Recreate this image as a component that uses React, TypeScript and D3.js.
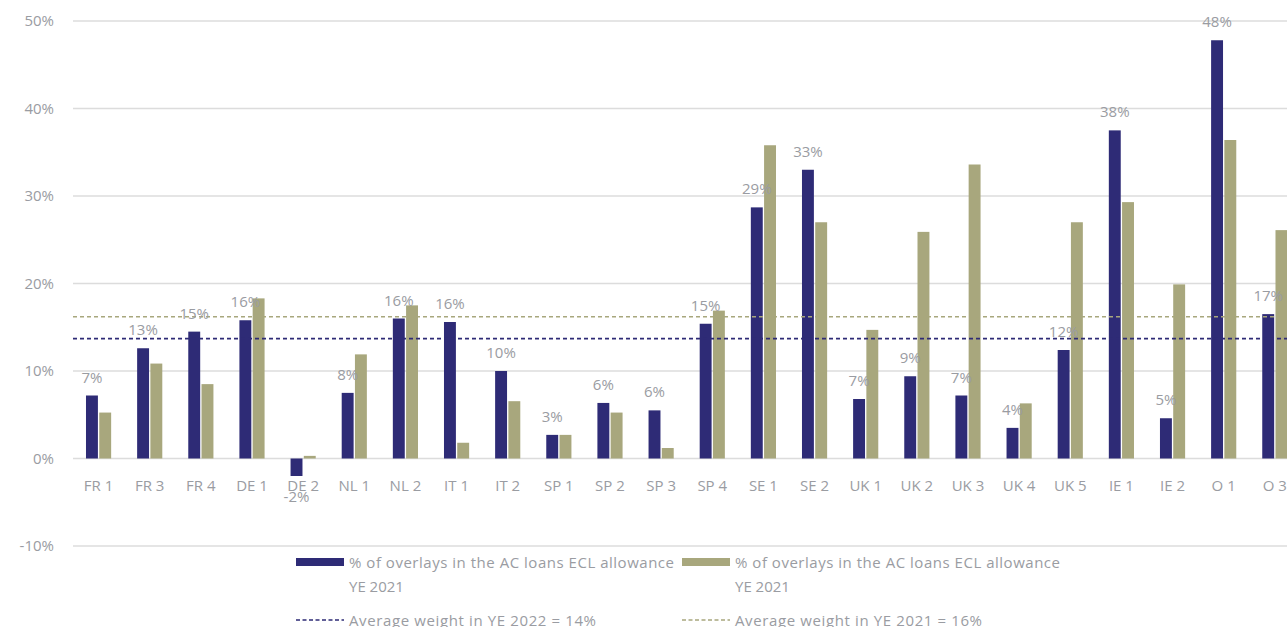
import React from 'react';
import * as d3 from 'd3';

// Chart data
const categories = [
  'FR 1', 'FR 3', 'FR 4', 'DE 1', 'DE 2', 'NL 1', 'NL 2', 'IT 1', 'IT 2', 'SP 1', 'SP 2', 'SP 3',
  'SP 4', 'SE 1', 'SE 2', 'UK 1', 'UK 2', 'UK 3', 'UK 4', 'UK 5', 'IE 1', 'IE 2', 'O 1', 'O 3',
];
const overlays2022 = [
  7.2, 12.6, 14.5, 15.8, -2.0, 7.5, 16.0, 15.6, 10.0, 2.7, 6.35, 5.5,
  15.4, 28.7, 33.0, 6.8, 9.4, 7.2, 3.5, 12.4, 37.5, 4.6, 47.8, 16.5,
];
const overlays2021 = [
  5.25, 10.85, 8.5, 18.3, 0.3, 11.9, 17.5, 1.8, 6.55, 2.7, 5.25, 1.2,
  16.9, 35.8, 27.0, 14.7, 25.9, 33.6, 6.3, 27.0, 29.3, 19.9, 36.4, 26.1,
];
const yTicks = [-10, 0, 10, 20, 30, 40, 50];
const avg2022 = 13.7;
const avg2021 = 16.2;
const legendLabels = [
  '% of overlays in the AC loans ECL allowance',
  '% of overlays in the AC loans ECL allowance',
];
const legendSub = 'YE 2021';
const avgLabels = ['Average weight in YE 2022 = 14%', 'Average weight in YE 2021 = 16%'];

const NAVY = '#2e2b76';
const OLIVE = '#a8a77d';
const GRID = '#dcdcdc';
const TEXT = '#9a9ca2';
const FONT = "'Open Sans', 'DejaVu Sans', sans-serif";

const W = 1287;
const H = 627;

export default function App() {
  const x0 = d3.scaleBand<string>().domain(categories).range([73, 1300.4]).padding(0);
  const bw = x0.bandwidth();
  const x1 = d3
    .scaleBand<string>()
    .domain(['y2022', 'y2021'])
    .range([bw * 0.254, bw * 0.746])
    .paddingInner(0.1);
  const y = d3.scaleLinear().domain([-10, 50]).range([546, 21]);

  const rows = categories.map((c, i) => ({ c, a: overlays2022[i], b: overlays2021[i] }));

  const legendX = [296, 682];

  return (
    <div style={{ position: 'absolute', left: 0, top: 0, width: W, height: H, overflow: 'hidden' }}>
      <svg width={W} height={H} style={{ display: 'block', background: '#fff' }} fontFamily={FONT}>
        {/* gridlines + y labels */}
        {yTicks.map(t => (
          <g key={t}>
            <line x1={73} x2={W} y1={y(t)} y2={y(t)} stroke={GRID} strokeWidth={1.4} />
            <text x={54} y={y(t)} dy="0.35em" textAnchor="end" fontSize={15} fill={TEXT}>
              {t}%
            </text>
          </g>
        ))}

        {/* bars */}
        {rows.map(r => {
          const bx = x0(r.c)!;
          return (
            <g key={r.c}>
              <rect
                x={bx + x1('y2022')!}
                y={y(Math.max(0, r.a))}
                width={x1.bandwidth()}
                height={Math.abs(y(r.a) - y(0))}
                fill={NAVY}
              />
              <rect
                x={bx + x1('y2021')!}
                y={y(Math.max(0, r.b))}
                width={x1.bandwidth()}
                height={Math.abs(y(r.b) - y(0))}
                fill={OLIVE}
              />
            </g>
          );
        })}

        {/* average lines */}
        <line x1={73} x2={W} y1={y(avg2021)} y2={y(avg2021)} stroke={OLIVE} strokeWidth={1.6} strokeDasharray="4,3" />
        <line x1={73} x2={W} y1={y(avg2022)} y2={y(avg2022)} stroke={NAVY} strokeWidth={1.6} strokeDasharray="4,3" />

        {/* value labels */}
        {rows.map(r => {
          const cx = x0(r.c)! + x1('y2022')! + x1.bandwidth() / 2;
          const ly = r.a >= 0 ? y(r.a) - 13 : y(r.a) + 26;
          return (
            <text key={r.c} x={cx} y={ly} textAnchor="middle" fontSize={15} fill={TEXT}>
              {Math.round(r.a)}%
            </text>
          );
        })}

        {/* category labels */}
        {categories.map(c => (
          <text key={c} x={x0(c)! + bw / 2} y={491} textAnchor="middle" fontSize={15} fill={TEXT}>
            {c}
          </text>
        ))}

        {/* legend */}
        {legendX.map((lx, i) => (
          <g key={i}>
            <rect x={lx} y={558} width={48} height={8} fill={i === 0 ? NAVY : OLIVE} />
            <text x={lx + 53} y={568} fontSize={15} fill={TEXT} textLength={325} lengthAdjust="spacing">
              {legendLabels[i]}
            </text>
            <text x={lx + 53} y={592} fontSize={15} fill={TEXT}>
              {legendSub}
            </text>
            <line
              x1={lx}
              x2={lx + 48}
              y1={620}
              y2={620}
              stroke={i === 0 ? NAVY : OLIVE}
              strokeWidth={1.5}
              strokeDasharray="4,2.5"
            />
            <text x={lx + 53} y={626} fontSize={15} fill={TEXT} textLength={247} lengthAdjust="spacing">
              {avgLabels[i]}
            </text>
          </g>
        ))}
      </svg>
    </div>
  );
}
